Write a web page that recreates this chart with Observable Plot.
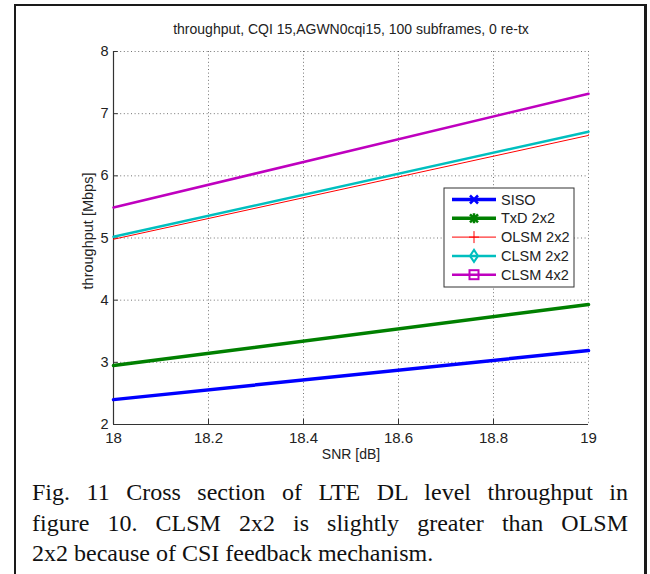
<!DOCTYPE html>
<html>
<head>
<meta charset="utf-8">
<script src="https://cdn.jsdelivr.net/npm/d3@7"></script>
<script src="https://cdn.jsdelivr.net/npm/@observablehq/plot@0.6"></script>
<style>
  html, body { margin: 0; padding: 0; background: #fff; width: 650px; height: 574px; overflow: hidden; }
  #frame { position: absolute; left: 14px; top: 4px; width: 633px; height: 600px; border: 2px solid #1a1a1a; border-bottom: none; border-right-width: 3px; box-sizing: border-box; }
  #chart { position: absolute; left: 0; top: 0; }
  #caption { position: absolute; left: 32px; top: 477px; width: 596px; font-family: "Liberation Serif", serif; font-size: 24px; color: #111; }
  #caption div { line-height: 30.5px; white-space: nowrap; }
  #caption .j { text-align: justify; text-align-last: justify; white-space: normal; }
</style>
</head>
<body>
<div id="frame"></div>
<div id="chart"></div>
<div id="caption">
  <div class="j">Fig. 11 Cross section of LTE DL level throughput in</div>
  <div class="j">figure 10. CLSM 2x2 is slightly greater than OLSM</div>
  <div>2x2 because of CSI feedback mechanism.</div>
</div>
<script>
// ---- data ----
const snr = [18, 19];
const siso = [2.40, 3.19];
const txd22 = [2.95, 3.93];
const olsm22 = [4.98, 6.65];
const clsm22 = [5.02, 6.71];
const clsm42 = [5.49, 7.32];
const seriesNames = ["SISO", "TxD 2x2", "OLSM 2x2", "CLSM 2x2", "CLSM 4x2"];
const xTicks = [18, 18.2, 18.4, 18.6, 18.8, 19];
const yTicks = [2, 3, 4, 5, 6, 7, 8];
const titleText = "throughput, CQI 15,AGWN0cqi15, 100 subframes, 0 re-tx";
const xLabel = "SNR [dB]";
const yLabel = "throughput [Mbps]";

const colors = ["#0000ff", "#008000", "#ff0000", "#00bfbf", "#bf00bf"];
const widths = [3.5, 3.5, 1, 2.5, 2.5];
const allSeries = [siso, txd22, olsm22, clsm22, clsm42];

const rows = [];
allSeries.forEach((vals, i) => vals.forEach((v, j) => rows.push({series: seriesNames[i], x: snr[j], y: v})));

const font = "Liberation Sans, Arial, sans-serif";
const grid = {stroke: "#000", strokeOpacity: 0.55, strokeDasharray: "1,2.6", strokeWidth: 1};

const marks = [
  Plot.ruleX(xTicks.slice(1), {...grid}),
  Plot.ruleY(yTicks.slice(1), {...grid}),
  Plot.ruleX(xTicks.slice(1, -1), {y1: 2, y2: 2.08, stroke: "#333"}),
  Plot.ruleY(yTicks.slice(1), {x1: 18, x2: 18.01, stroke: "#333"}),
  Plot.ruleX([18], {stroke: "#333", strokeWidth: 1.2}),
  Plot.ruleY([2], {stroke: "#333", strokeWidth: 1.2}),
  Plot.axisX({ticks: xTicks, tickSize: 0, tickPadding: 8, fontSize: 15, tickFormat: d => String(d), label: null, fill: "#222"}),
  Plot.axisY({ticks: yTicks, tickSize: 0, tickPadding: 5, fontSize: 14.5, tickFormat: d => String(d), label: null, fill: "#222"}),
  ...seriesNames.map((name, i) => Plot.line(rows.filter(r => r.series === name), {x: "x", y: "y", stroke: colors[i], strokeWidth: widths[i]})),
  Plot.text([titleText], {frameAnchor: "top", dy: -27, fontSize: 14, fill: "#222"}),
  Plot.text([xLabel], {frameAnchor: "bottom", dy: 34, fontSize: 14, fill: "#222"}),
  Plot.text([yLabel], {frameAnchor: "left", dx: -25, dy: -7, rotate: -90, textAnchor: "middle", fontSize: 14.5, fill: "#222"})
];

const chart = Plot.plot({
  width: 650,
  height: 470,
  marginLeft: 113,
  marginRight: 62,
  marginTop: 51,
  marginBottom: 46,
  x: {domain: [18, 19], axis: null},
  y: {domain: [2, 8], axis: null},
  style: {fontFamily: font, background: "transparent", overflow: "visible"},
  marks
});
document.getElementById("chart").appendChild(chart);

// ---- legend ----
const svg = d3.select(chart);
const lg = svg.append("g").attr("font-family", font).attr("font-size", 14.5).attr("text-anchor", "start");
lg.append("rect").attr("x", 444).attr("y", 188).attr("width", 130).attr("height", 99)
  .attr("fill", "#fff").attr("stroke", "#333").attr("stroke-width", 1);
seriesNames.forEach((name, i) => {
  const y = 199.5 + i * 18.8;
  const c = colors[i];
  const g = lg.append("g");
  g.append("line").attr("x1", 452).attr("x2", 496).attr("y1", y).attr("y2", y)
    .attr("stroke", c).attr("stroke-width", widths[i]);
  const cx = 474;
  if (i === 0) {
    g.append("path").attr("d", `M${cx-4},${y-4}L${cx+4},${y+4}M${cx-4},${y+4}L${cx+4},${y-4}`)
      .attr("stroke", c).attr("stroke-width", 2.5);
  } else if (i === 1) {
    g.append("path").attr("d", `M${cx-4},${y-4}L${cx+4},${y+4}M${cx-4},${y+4}L${cx+4},${y-4}M${cx},${y-5}L${cx},${y+5}M${cx-5},${y}L${cx+5},${y}`)
      .attr("stroke", c).attr("stroke-width", 2.5);
  } else if (i === 2) {
    g.append("path").attr("d", `M${cx},${y-6}L${cx},${y+6}M${cx-5},${y}L${cx+5},${y}`)
      .attr("stroke", c).attr("stroke-width", 1);
  } else if (i === 3) {
    g.append("path").attr("d", `M${cx},${y-6}L${cx+4},${y}L${cx},${y+6}L${cx-4},${y}Z`)
      .attr("stroke", c).attr("stroke-width", 2).attr("fill", "none");
  } else {
    g.append("rect").attr("x", cx - 4.5).attr("y", y - 4.5).attr("width", 9).attr("height", 9)
      .attr("stroke", c).attr("stroke-width", 2).attr("fill", "none");
  }
  g.append("text").attr("x", 501).attr("y", y).attr("dy", "0.35em").attr("fill", "#222").text(name);
});
</script>
</body>
</html>
